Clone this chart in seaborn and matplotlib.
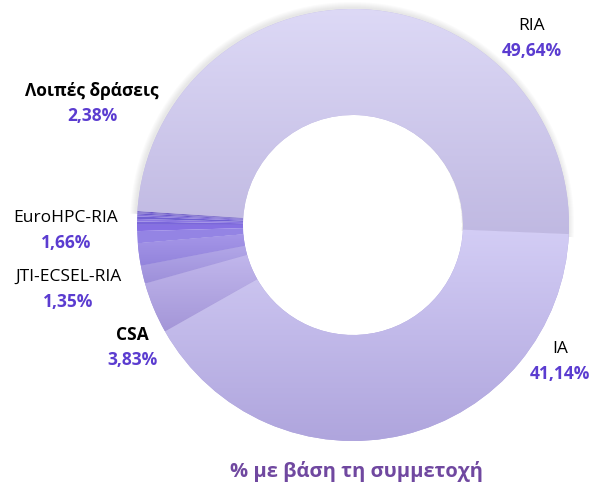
import matplotlib
matplotlib.use('Agg')
import matplotlib.pyplot as plt
import seaborn as sns
import numpy as np
from matplotlib.colors import LinearSegmentedColormap
from matplotlib.patches import Wedge

# share of participation per action type (%)
categories = ['RIA', 'IA', 'CSA', 'JTI-ECSEL-RIA', 'EuroHPC-RIA', 'Λοιπές δράσεις']
shares = [49.64, 41.14, 3.83, 1.35, 1.66, 2.38]
# the "other actions" group is made of many small slices
other_parts = [0.90, 0.46, 0.25, 0.19, 0.19, 0.13, 0.10, 0.08, 0.08]
bold_names = ['CSA', 'Λοιπές δράσεις']

# (top, bottom) colours of each main slice
main_colors = [('#DDD9F6', '#C0B9E2'),
               ('#D3CDF5', '#AFA5DD'),
               ('#C1B7EC', '#A496D8'),
               ('#B2A7E8', '#9E90DA'),
               ('#A596E8', '#9384DC')]
other_colors = ['#9484E4', '#8670E3', '#7A66DA', '#8C78E2', '#7060D2',
                '#8470DC', '#6C5BCB', '#7E6CD6', '#6A58C6']

sns.set_style('white')
plt.rcParams['font.family'] = ['Open Sans', 'DejaVu Sans']

W, H = 593, 493
fig = plt.figure(figsize=(W / 100, H / 100), dpi=100)
ax = fig.add_axes([0, 0, 1, 1])

cx, cy, R = 353, H - 225, 216
sizes = shares[:-1] + other_parts
colors = [c[1] for c in main_colors] + other_colors

wedges, _ = ax.pie(sizes, colors=colors, startangle=176.3, counterclock=False,
                   radius=R, center=(cx, cy),
                   wedgeprops=dict(width=106, linewidth=0))

# soft shadow around the outer edge of the first slice
t1, t2 = wedges[0].theta1, wedges[0].theta2
for k in range(6, 0, -1):
    ax.add_patch(Wedge((cx - 1, cy + 1), R + k, t1 - 1, t2 + 1, width=106 + k,
                       facecolor='gray', alpha=0.03, linewidth=0, zorder=0))

# vertical gradient on the main slices
grad = np.linspace(0, 1, 256).reshape(-1, 1)
for w, (top, bottom) in zip(wedges, main_colors):
    bb = w.get_path().get_extents()
    cmap = LinearSegmentedColormap.from_list('g', [bottom, top])
    im = ax.imshow(grad, extent=[bb.x0, bb.x1, bb.y0, bb.y1], origin='lower',
                   cmap=cmap, aspect='auto', zorder=w.get_zorder() + 0.1)
    im.set_clip_path(w)

ax.set_xlim(0, W)
ax.set_ylim(0, H)
ax.axis('off')

label_pos = {'RIA': (532, 26), 'IA': (560, 349), 'CSA': (132, 335),
             'JTI-ECSEL-RIA': (68, 277), 'EuroHPC-RIA': (66, 218),
             'Λοιπές δράσεις': (92, 91)}
pct_color = '#5B3CD0'
for name, val in zip(categories, shares):
    x, y = label_pos[name]
    ax.text(x, H - y, name, ha='center', va='center', fontsize=12.5,
            fontweight='bold' if name in bold_names else 'normal', color='black')
    pct = f'{val:.2f}'.replace('.', ',') + '%'
    ax.text(x, H - y - 25, pct, ha='center', va='center', fontsize=12.5,
            fontweight='bold', color=pct_color)

ax.text(356, H - 472, '% με βάση τη συμμετοχή', ha='center', va='center',
        fontsize=14.5, fontweight='bold', color='#7048A0')

plt.savefig('out.png', dpi=100)
